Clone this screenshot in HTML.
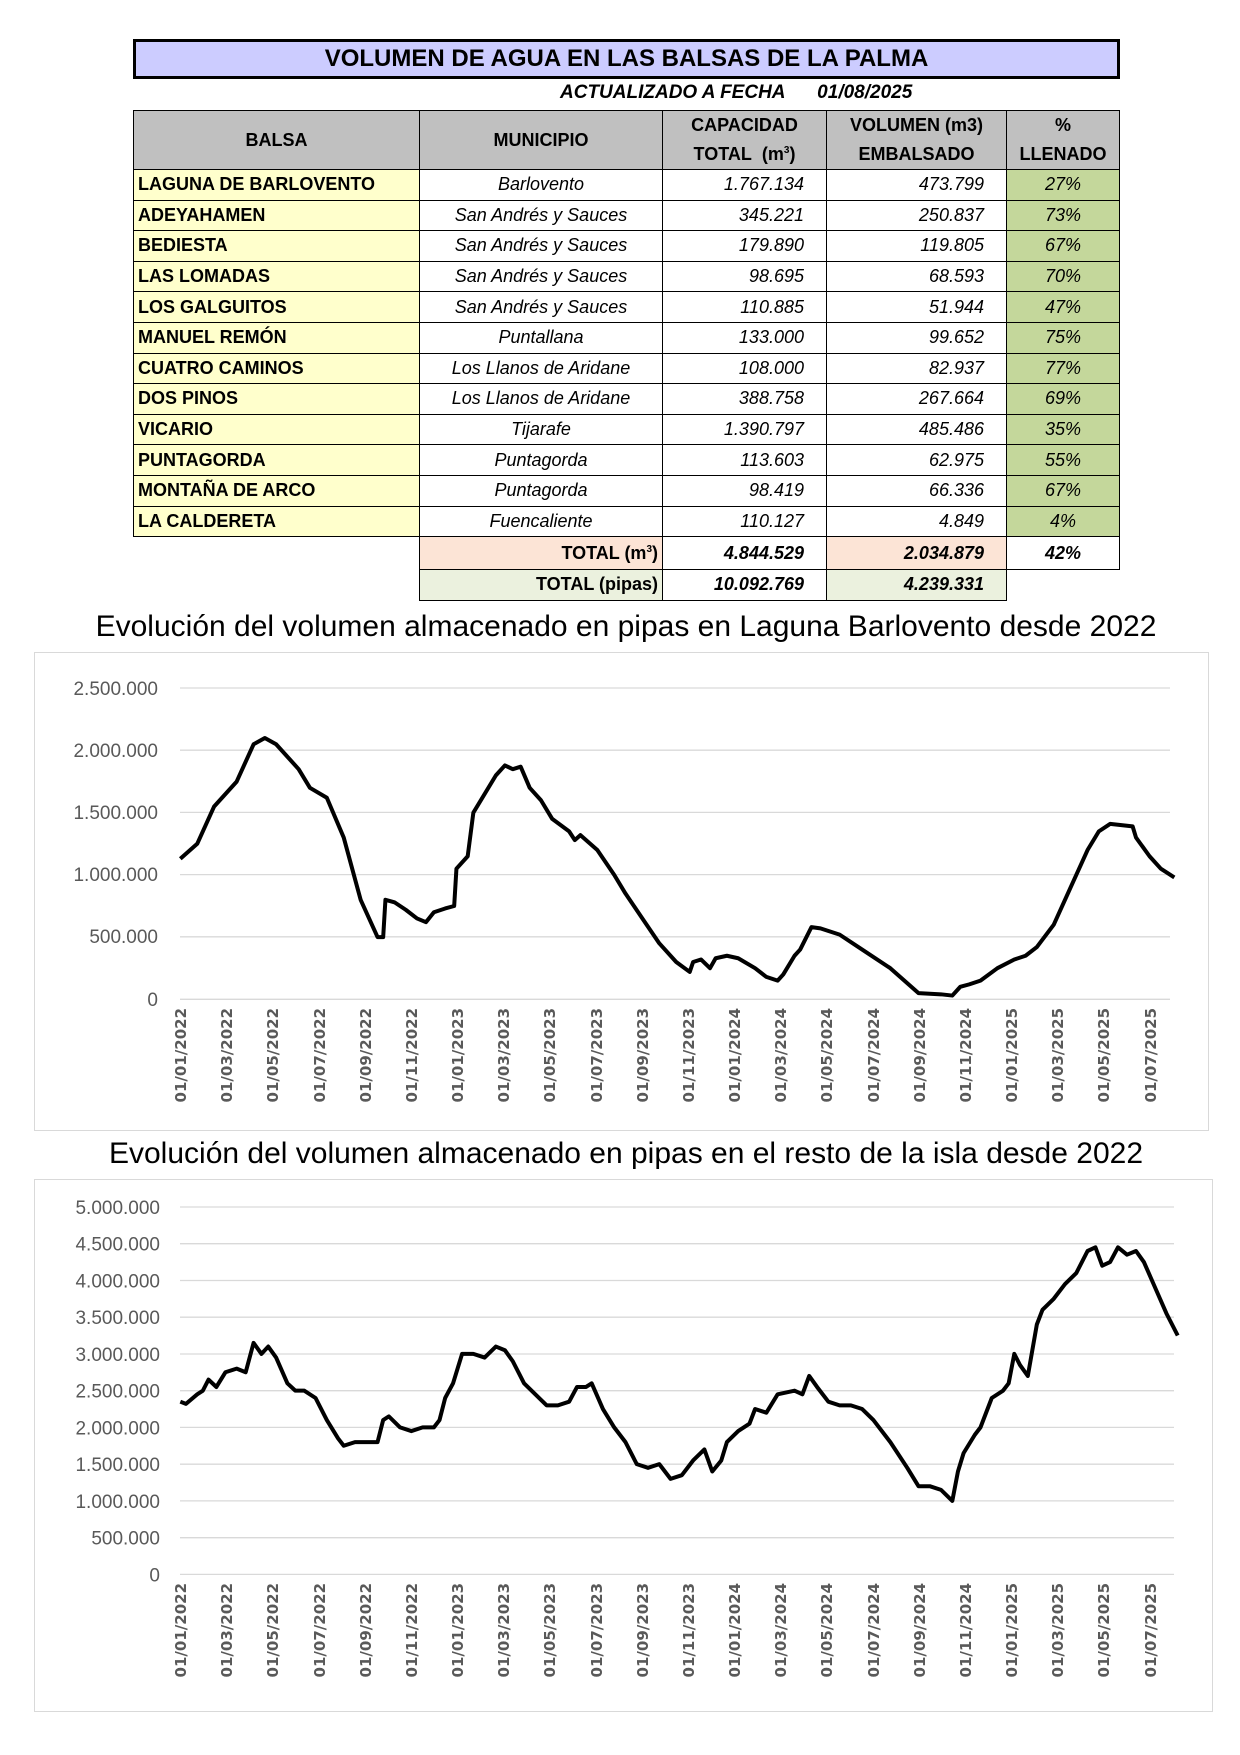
<!DOCTYPE html>
<html><head><meta charset="utf-8"><style>
body{margin:0;background:#fff;width:1240px;height:1755px;position:relative;font-family:"Liberation Sans",sans-serif;overflow:hidden}
#tb{position:absolute;left:133px;top:39px;width:987px;height:40px;box-sizing:border-box;border:3px solid #000;background:#ccccff;text-align:center;font-weight:bold;font-size:24px;line-height:34px}
#upd{position:absolute;left:560px;top:82px;font-weight:bold;font-style:italic;font-size:19px}
table{position:absolute;left:133px;top:110px;border-collapse:collapse;table-layout:fixed}
td{border:1px solid #000;height:29.6px;padding:0 4px;font-size:18px;white-space:nowrap;overflow:hidden}
.h td{background:#c0c0c0;font-weight:bold;text-align:center;height:29px;border-top:none;border-bottom:none}
.h td{border-left:1px solid #000}
.b{background:#ffffcc;font-weight:bold}
.m{font-style:italic;text-align:center}
.n{font-style:italic;text-align:right;padding-right:22px}
.p{background:#c4d79b;font-style:italic;text-align:center}
.nb{border:none}
</style></head><body>
<div id="tb">VOLUMEN DE AGUA EN LAS BALSAS DE LA PALMA</div>
<div id="upd">ACTUALIZADO A FECHA&nbsp;&nbsp;&nbsp;&nbsp;&nbsp;&nbsp;01/08/2025</div>
<table>
<colgroup><col style="width:286px"><col style="width:243px"><col style="width:164px"><col style="width:180px"><col style="width:113px"></colgroup>
<tr class="h"><td rowspan="2" style="border-bottom:1px solid #000;border-top:1px solid #000">BALSA</td><td rowspan="2" style="border-bottom:1px solid #000;border-top:1px solid #000">MUNICIPIO</td><td style="border-top:1px solid #000">CAPACIDAD</td><td style="border-top:1px solid #000">VOLUMEN (m3)</td><td style="border-top:1px solid #000;border-right:1px solid #000">%</td></tr>
<tr class="h"><td style="border-bottom:1px solid #000">TOTAL&nbsp; (m<sup style="font-size:10px">3</sup>)</td><td style="border-bottom:1px solid #000">EMBALSADO</td><td style="border-bottom:1px solid #000;border-right:1px solid #000">LLENADO</td></tr>
<tr><td class="b">LAGUNA DE BARLOVENTO</td><td class="m">Barlovento</td><td class="n">1.767.134</td><td class="n">473.799</td><td class="p">27%</td></tr>
<tr><td class="b">ADEYAHAMEN</td><td class="m">San Andrés y Sauces</td><td class="n">345.221</td><td class="n">250.837</td><td class="p">73%</td></tr>
<tr><td class="b">BEDIESTA</td><td class="m">San Andrés y Sauces</td><td class="n">179.890</td><td class="n">119.805</td><td class="p">67%</td></tr>
<tr><td class="b">LAS LOMADAS</td><td class="m">San Andrés y Sauces</td><td class="n">98.695</td><td class="n">68.593</td><td class="p">70%</td></tr>
<tr><td class="b">LOS GALGUITOS</td><td class="m">San Andrés y Sauces</td><td class="n">110.885</td><td class="n">51.944</td><td class="p">47%</td></tr>
<tr><td class="b">MANUEL REMÓN</td><td class="m">Puntallana</td><td class="n">133.000</td><td class="n">99.652</td><td class="p">75%</td></tr>
<tr><td class="b">CUATRO CAMINOS</td><td class="m">Los Llanos de Aridane</td><td class="n">108.000</td><td class="n">82.937</td><td class="p">77%</td></tr>
<tr><td class="b">DOS PINOS</td><td class="m">Los Llanos de Aridane</td><td class="n">388.758</td><td class="n">267.664</td><td class="p">69%</td></tr>
<tr><td class="b">VICARIO</td><td class="m">Tijarafe</td><td class="n">1.390.797</td><td class="n">485.486</td><td class="p">35%</td></tr>
<tr><td class="b">PUNTAGORDA</td><td class="m">Puntagorda</td><td class="n">113.603</td><td class="n">62.975</td><td class="p">55%</td></tr>
<tr><td class="b">MONTAÑA DE ARCO</td><td class="m">Puntagorda</td><td class="n">98.419</td><td class="n">66.336</td><td class="p">67%</td></tr>
<tr><td class="b">LA CALDERETA</td><td class="m">Fuencaliente</td><td class="n">110.127</td><td class="n">4.849</td><td class="p">4%</td></tr>
<tr><td class="nb" style="border-top:1px solid #000;height:32px"></td><td style="background:#fce4d6;text-align:right;font-weight:bold;height:32px">TOTAL (m<sup style="font-size:10px">3</sup>)</td><td class="n" style="font-weight:bold">4.844.529</td><td class="n" style="font-weight:bold;background:#fce4d6">2.034.879</td><td class="m" style="font-weight:bold">42%</td></tr>
<tr><td class="nb"></td><td style="background:#ebf1de;text-align:right;font-weight:bold">TOTAL (pipas)</td><td class="n" style="font-weight:bold">10.092.769</td><td class="n" style="font-weight:bold;background:#ebf1de">4.239.331</td><td class="nb"></td></tr>
</table>
<svg width="1240" height="1755" style="position:absolute;left:0;top:0" font-family="Liberation Sans, sans-serif">
<g transform="translate(0,-6)">
<text x="626" y="642" text-anchor="middle" font-size="30" fill="#000">Evolución del volumen almacenado en pipas en Laguna Barlovento desde 2022</text>
<rect x="34.5" y="658.5" width="1174" height="478" fill="none" stroke="#d9d9d9"/>
<g stroke="#d9d9d9" stroke-width="1.3">
<line x1="180" x2="1170" y1="694" y2="694"/><line x1="180" x2="1170" y1="756.2" y2="756.2"/><line x1="180" x2="1170" y1="818.4" y2="818.4"/><line x1="180" x2="1170" y1="880.6" y2="880.6"/><line x1="180" x2="1170" y1="942.8" y2="942.8"/><line x1="180" x2="1170" y1="1005.3" y2="1005.3"/>
</g>
<g font-size="19" fill="#595959" text-anchor="end">
<text x="158" y="701">2.500.000</text><text x="158" y="763">2.000.000</text><text x="158" y="825">1.500.000</text><text x="158" y="887">1.000.000</text><text x="158" y="949">500.000</text><text x="158" y="1012">0</text>
</g>
<g transform="matrix(1.127 0 0 -124.4 0 1005.3)"><path fill="none" stroke="#000" stroke-width="4" vector-effect="non-scaling-stroke" stroke-linejoin="round" d="M160,1.13 L175,1.25 190,1.55 210,1.75 225,2.05 235,2.1 245,2.05 265,1.85 275,1.7 290,1.62 305,1.3 320,0.8 335,0.5 340,0.5 342,0.8 350,0.78 360,0.72 370,0.65 378,0.62 385,0.7 395,0.73 403,0.75 405,1.05 415,1.15 420,1.5 440,1.8 448,1.88 455,1.85 462,1.87 470,1.7 480,1.6 490,1.45 505,1.35 510,1.28 515,1.32 530,1.2 545,1.0 555,0.85 570,0.65 585,0.45 600,0.3 612,0.22 615,0.3 622,0.32 630,0.25 635,0.33 645,0.35 655,0.33 670,0.25 680,0.18 690,0.15 695,0.2 705,0.35 710,0.4 720,0.58 728,0.57 745,0.52 765,0.4 790,0.25 815,0.05 835,0.04 845,0.03 852,0.1 860,0.12 870,0.15 885,0.25 900,0.32 910,0.35 920,0.42 935,0.6 950,0.9 965,1.2 975,1.35 985,1.41 995,1.4 1005,1.39 1008,1.3 1020,1.15 1030,1.05 1042,0.98"/></g>
<g font-family="DejaVu Sans, sans-serif" font-size="15" font-weight="bold" fill="#595959" text-anchor="end">
<text transform="translate(186,1014) rotate(-90)">01/01/2022</text><text transform="translate(232,1014) rotate(-90)">01/03/2022</text><text transform="translate(278,1014) rotate(-90)">01/05/2022</text><text transform="translate(325,1014) rotate(-90)">01/07/2022</text><text transform="translate(371,1014) rotate(-90)">01/09/2022</text><text transform="translate(417,1014) rotate(-90)">01/11/2022</text><text transform="translate(463,1014) rotate(-90)">01/01/2023</text><text transform="translate(509,1014) rotate(-90)">01/03/2023</text><text transform="translate(555,1014) rotate(-90)">01/05/2023</text><text transform="translate(602,1014) rotate(-90)">01/07/2023</text><text transform="translate(648,1014) rotate(-90)">01/09/2023</text><text transform="translate(694,1014) rotate(-90)">01/11/2023</text><text transform="translate(740,1014) rotate(-90)">01/01/2024</text><text transform="translate(786,1014) rotate(-90)">01/03/2024</text><text transform="translate(832,1014) rotate(-90)">01/05/2024</text><text transform="translate(879,1014) rotate(-90)">01/07/2024</text><text transform="translate(925,1014) rotate(-90)">01/09/2024</text><text transform="translate(971,1014) rotate(-90)">01/11/2024</text><text transform="translate(1017,1014) rotate(-90)">01/01/2025</text><text transform="translate(1063,1014) rotate(-90)">01/03/2025</text><text transform="translate(1109,1014) rotate(-90)">01/05/2025</text><text transform="translate(1156,1014) rotate(-90)">01/07/2025</text>
</g>
</g>
<g transform="translate(0,-9)">
<text x="626" y="1172" text-anchor="middle" font-size="30" fill="#000">Evolución del volumen almacenado en pipas en el resto de la isla desde 2022</text>
<rect x="34.5" y="1188.5" width="1178" height="532" fill="none" stroke="#d9d9d9"/>
<g stroke="#d9d9d9" stroke-width="1.3">
<line x1="180" x2="1174" y1="1216" y2="1216"/><line x1="180" x2="1174" y1="1252.7" y2="1252.7"/><line x1="180" x2="1174" y1="1289.5" y2="1289.5"/><line x1="180" x2="1174" y1="1326.2" y2="1326.2"/><line x1="180" x2="1174" y1="1363" y2="1363"/><line x1="180" x2="1174" y1="1399.7" y2="1399.7"/><line x1="180" x2="1174" y1="1436.4" y2="1436.4"/><line x1="180" x2="1174" y1="1473.2" y2="1473.2"/><line x1="180" x2="1174" y1="1509.9" y2="1509.9"/><line x1="180" x2="1174" y1="1546.7" y2="1546.7"/><line x1="180" x2="1174" y1="1583.4" y2="1583.4"/>
</g>
<g font-size="19" fill="#595959" text-anchor="end">
<text x="160" y="1223">5.000.000</text><text x="160" y="1259.7">4.500.000</text><text x="160" y="1296.5">4.000.000</text><text x="160" y="1333.2">3.500.000</text><text x="160" y="1370">3.000.000</text><text x="160" y="1406.7">2.500.000</text><text x="160" y="1443.4">2.000.000</text><text x="160" y="1480.2">1.500.000</text><text x="160" y="1516.9">1.000.000</text><text x="160" y="1553.7">500.000</text><text x="160" y="1590.4">0</text>
</g>
<g transform="matrix(1.127 0 0 -73.5 0 1583.4)"><path fill="none" stroke="#000" stroke-width="4" vector-effect="non-scaling-stroke" stroke-linejoin="round" d="M160,2.35 L165,2.32 175,2.45 180,2.5 185,2.65 192,2.55 200,2.75 210,2.8 218,2.75 225,3.15 232,3.0 238,3.1 245,2.95 255,2.6 262,2.5 270,2.5 280,2.4 290,2.1 300,1.85 305,1.75 315,1.8 325,1.8 335,1.8 340,2.1 345,2.15 355,2.0 365,1.95 375,2.0 385,2.0 390,2.1 395,2.4 402,2.6 410,3.0 420,3.0 430,2.95 440,3.1 448,3.05 455,2.9 465,2.6 475,2.45 485,2.3 495,2.3 505,2.35 512,2.55 520,2.55 525,2.6 535,2.25 545,2.0 555,1.8 565,1.5 575,1.45 585,1.5 595,1.3 605,1.35 615,1.55 625,1.7 632,1.4 640,1.55 645,1.8 655,1.95 665,2.05 670,2.25 680,2.2 690,2.45 705,2.5 712,2.45 718,2.7 725,2.55 735,2.35 745,2.3 755,2.3 765,2.25 775,2.1 790,1.8 805,1.45 815,1.2 825,1.2 835,1.15 845,1.0 850,1.4 855,1.65 865,1.9 870,2.0 880,2.4 890,2.5 895,2.6 900,3.0 905,2.85 912,2.7 920,3.4 925,3.6 935,3.75 945,3.95 955,4.1 965,4.4 972,4.45 978,4.2 985,4.25 992,4.45 1000,4.35 1008,4.4 1015,4.25 1025,3.9 1035,3.55 1045,3.25"/></g>
<g font-family="DejaVu Sans, sans-serif" font-size="15" font-weight="bold" fill="#595959" text-anchor="end">
<text transform="translate(186,1592) rotate(-90)">01/01/2022</text><text transform="translate(232,1592) rotate(-90)">01/03/2022</text><text transform="translate(278,1592) rotate(-90)">01/05/2022</text><text transform="translate(325,1592) rotate(-90)">01/07/2022</text><text transform="translate(371,1592) rotate(-90)">01/09/2022</text><text transform="translate(417,1592) rotate(-90)">01/11/2022</text><text transform="translate(463,1592) rotate(-90)">01/01/2023</text><text transform="translate(509,1592) rotate(-90)">01/03/2023</text><text transform="translate(555,1592) rotate(-90)">01/05/2023</text><text transform="translate(602,1592) rotate(-90)">01/07/2023</text><text transform="translate(648,1592) rotate(-90)">01/09/2023</text><text transform="translate(694,1592) rotate(-90)">01/11/2023</text><text transform="translate(740,1592) rotate(-90)">01/01/2024</text><text transform="translate(786,1592) rotate(-90)">01/03/2024</text><text transform="translate(832,1592) rotate(-90)">01/05/2024</text><text transform="translate(879,1592) rotate(-90)">01/07/2024</text><text transform="translate(925,1592) rotate(-90)">01/09/2024</text><text transform="translate(971,1592) rotate(-90)">01/11/2024</text><text transform="translate(1017,1592) rotate(-90)">01/01/2025</text><text transform="translate(1063,1592) rotate(-90)">01/03/2025</text><text transform="translate(1109,1592) rotate(-90)">01/05/2025</text><text transform="translate(1156,1592) rotate(-90)">01/07/2025</text>
</g>
</g>
</svg>
</body></html>
